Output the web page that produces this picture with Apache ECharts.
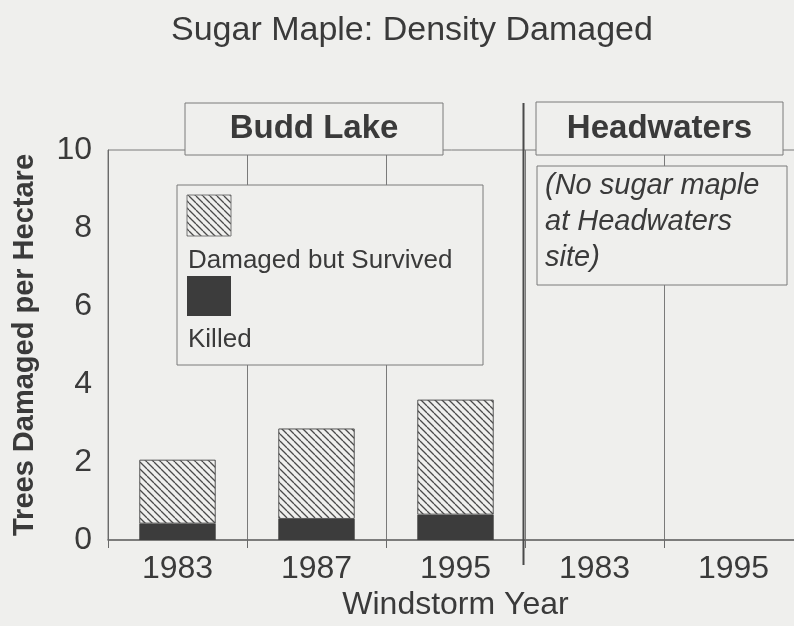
<!DOCTYPE html>
<html><head><meta charset="utf-8">
<script src="https://cdn.jsdelivr.net/npm/echarts@6/dist/echarts.min.js"></script>
<style>html,body{margin:0;padding:0;background:#efefed}#c{width:794px;height:626px}</style>
</head><body><div id="c"></div>
<script>
const titleText = 'Sugar Maple: Density Damaged';
const categories = ['1983', '1987', '1995', '1983', '1995'];
const killed = [0.42, 0.54, 0.65, null, null];
const survived = [1.64, 2.32, 2.95, null, null];
const legendNames = ['Damaged but Survived', 'Killed'];
const sites = ['Budd Lake', 'Headwaters'];
const noteLines = ['(No sugar maple', 'at Headwaters', 'site)'];
const xName = 'Windstorm Year';
const yName = 'Trees Damaged per Hectare';

const FONT = '"Liberation Sans", Arial, sans-serif';
const BG = '#efefed';
const TXT = '#3a3a3a';
const LINE = '#7a7a7a';
const DARK = '#3c3c3c';

function hatchCanvas() {
  const s = 7;
  const c = document.createElement('canvas');
  c.width = s; c.height = s;
  const g = c.getContext('2d');
  g.fillStyle = '#efefed'; g.fillRect(0, 0, s, s);
  g.strokeStyle = '#4a4a4a'; g.lineWidth = 1.3;
  g.beginPath();
  for (let k = -1; k <= 1; k++) { g.moveTo(k * s, 0); g.lineTo(k * s + s, s); }
  g.stroke();
  return c;
}
const pat = { image: hatchCanvas(), repeat: 'repeat' };

const chart = echarts.init(document.getElementById('c'));
chart.setOption({
  backgroundColor: BG,
  animation: false,
  title: { text: titleText, left: 166, top: 9,
    textStyle: { fontFamily: FONT, fontSize: 34, fontWeight: 'normal', color: TXT } },
  grid: { left: 108, top: 150, width: 695, height: 390, outerBoundsMode: 'none', containLabel: false,
    show: true, borderColor: LINE, borderWidth: 1, backgroundColor: 'transparent' },
  xAxis: {
    type: 'category', data: categories,
    axisLine: { lineStyle: { color: '#6a6a6a', width: 1.5 } },
    axisTick: { show: true, length: 8, lineStyle: { color: '#6a6a6a' } },
    axisLabel: { fontFamily: FONT, fontSize: 32, color: TXT, margin: 13 },
    splitLine: { show: true, lineStyle: { color: LINE, width: 1 } },
    name: xName, nameLocation: 'middle', nameGap: 49, nameMoveOverlap: false,
    nameTextStyle: { fontFamily: FONT, fontSize: 32, color: TXT }
  },
  yAxis: {
    type: 'value', min: 0, max: 10, interval: 2,
    axisLine: { show: true, lineStyle: { color: '#6a6a6a' } },
    axisTick: { show: false }, splitLine: { show: false },
    axisLabel: { fontFamily: FONT, fontSize: 32, color: TXT, margin: 16 },
    name: yName, nameLocation: 'middle', nameGap: 69, nameMoveOverlap: false,
    nameTextStyle: { fontFamily: FONT, fontSize: 29, fontWeight: 'bold', color: TXT }
  },
  series: [
    { name: legendNames[1], type: 'bar', stack: 'a', data: killed, barWidth: '55%',
      itemStyle: { color: DARK } },
    { name: legendNames[0], type: 'bar', stack: 'a', data: survived, barWidth: '55%',
      itemStyle: { color: pat, borderColor: '#555', borderWidth: 1 } }
  ]
});

const xA = chart.convertToPixel({ xAxisIndex: 0 }, 2);
const xB = chart.convertToPixel({ xAxisIndex: 0 }, 3);
const sepX = Math.round((xA + xB) / 2) - 1.5;

chart.setOption({
  graphic: [
    { type: 'line', z: 50, shape: { x1: sepX, y1: 103, x2: sepX, y2: 565 }, style: { stroke: '#4a4a4a', lineWidth: 2 } },
    { type: 'rect', z: 60, shape: { x: 185, y: 103, width: 258, height: 52 }, style: { fill: BG, stroke: LINE, lineWidth: 1 } },
    { type: 'text', z: 61, x: 314, y: 129, style: { text: sites[0], font: 'bold 33px ' + FONT, fill: TXT, textAlign: 'center', textVerticalAlign: 'middle' } },
    { type: 'rect', z: 60, shape: { x: 536, y: 102, width: 247, height: 53 }, style: { fill: BG, stroke: LINE, lineWidth: 1 } },
    { type: 'text', z: 61, x: 659.5, y: 129, style: { text: sites[1], font: 'bold 33px ' + FONT, fill: TXT, textAlign: 'center', textVerticalAlign: 'middle' } },
    { type: 'rect', z: 60, shape: { x: 537, y: 166, width: 250, height: 119 }, style: { fill: BG, stroke: LINE, lineWidth: 1 } },
    { type: 'text', z: 61, x: 545, y: 186, style: { text: noteLines[0], font: 'italic 29px ' + FONT, fill: TXT, textAlign: 'left', textVerticalAlign: 'middle' } },
    { type: 'text', z: 61, x: 545, y: 222, style: { text: noteLines[1], font: 'italic 29px ' + FONT, fill: TXT, textAlign: 'left', textVerticalAlign: 'middle' } },
    { type: 'text', z: 61, x: 545, y: 258, style: { text: noteLines[2], font: 'italic 29px ' + FONT, fill: TXT, textAlign: 'left', textVerticalAlign: 'middle' } },
    { type: 'rect', z: 60, shape: { x: 177, y: 185, width: 306, height: 180 }, style: { fill: BG, stroke: LINE, lineWidth: 1 } },
    { type: 'rect', z: 61, shape: { x: 187, y: 195, width: 44, height: 41 }, style: { fill: pat, stroke: '#777', lineWidth: 1 } },
    { type: 'text', z: 61, x: 188, y: 261, style: { text: legendNames[0], font: '26px ' + FONT, fill: TXT, textAlign: 'left', textVerticalAlign: 'middle' } },
    { type: 'rect', z: 61, shape: { x: 187, y: 276, width: 44, height: 40 }, style: { fill: DARK } },
    { type: 'text', z: 61, x: 188, y: 340, style: { text: legendNames[1], font: '26px ' + FONT, fill: TXT, textAlign: 'left', textVerticalAlign: 'middle' } }
  ]
});
</script></body></html>
